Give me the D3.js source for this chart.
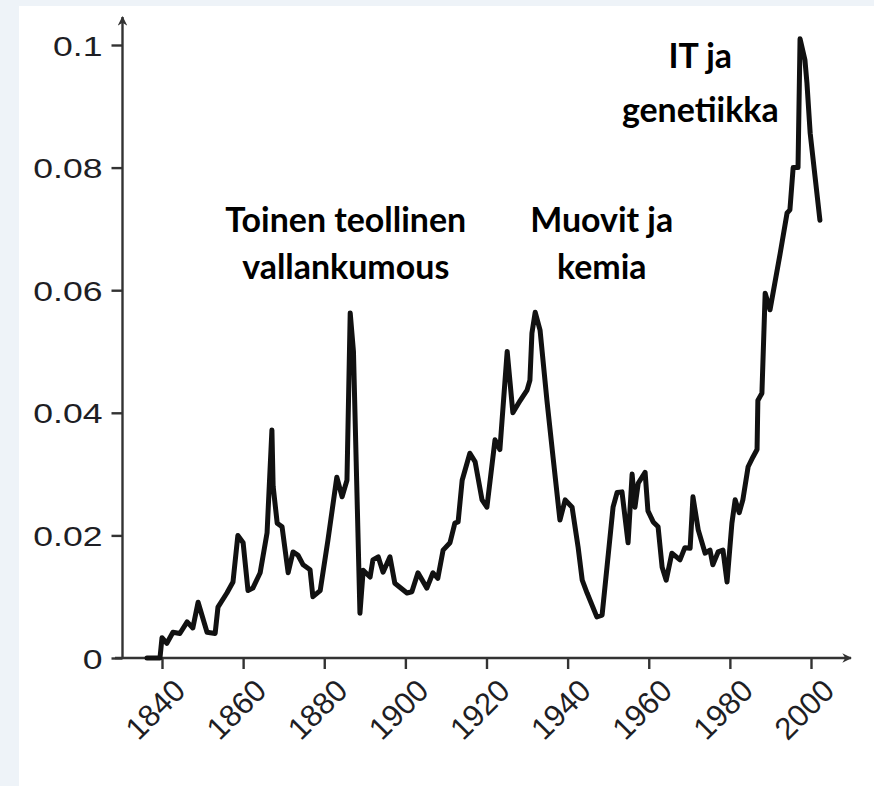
<!DOCTYPE html>
<html lang="fi">
<head>
<meta charset="utf-8">
<title>Innovaatioaallot</title>
<style>
  html, body { margin: 0; padding: 0; background: #eef3f8; }
  svg { display: block; }
  .tick text { fill: #1e1e24; font-family: "Liberation Sans", Arial, sans-serif; }
  .tick line { stroke: #333; stroke-width: 2.4px; }
  .note { font-family: Lato, "Open Sans", sans-serif; font-weight: 700; fill: #000; }
</style>
</head>
<body>
<div id="chart"></div>
<script src="https://cdn.jsdelivr.net/npm/d3@7"></script>
<script>
// values (year, share)
var years = [1836.3, 1839.5, 1840.0, 1841.2, 1842.7, 1844.4, 1846.2, 1847.6, 1848.9, 1851.1,
  1853.1, 1853.8, 1856.0, 1857.5, 1858.7, 1860.0, 1861.2, 1862.4, 1864.2, 1865.9,
  1867.1, 1867.4, 1868.4, 1869.6, 1871.1, 1872.3, 1873.5, 1874.8, 1876.5, 1877.2,
  1879.0, 1880.9, 1883.1, 1884.4, 1885.6, 1886.4, 1887.2, 1888.8, 1889.6, 1891.3,
  1892.0, 1893.3, 1894.5, 1896.2, 1897.4, 1900.4, 1901.6, 1903.1, 1905.3, 1906.8,
  1908.0, 1909.3, 1911.0, 1912.2, 1913.0, 1914.0, 1915.9, 1917.2, 1918.9, 1920.1,
  1922.1, 1923.3, 1925.1, 1926.5, 1928.3, 1930.0, 1930.7, 1931.2, 1932.0, 1933.2,
  1934.9, 1936.4, 1938.1, 1939.4, 1941.1, 1942.6, 1943.6, 1944.8, 1947.2, 1948.5,
  1949.7, 1951.2, 1952.2, 1953.4, 1954.9, 1955.9, 1956.6, 1957.4, 1959.1, 1959.8,
  1961.1, 1962.3, 1963.3, 1964.3, 1965.7, 1967.7, 1968.9, 1970.2, 1970.9, 1972.2,
  1973.9, 1975.1, 1975.8, 1977.1, 1978.3, 1979.3, 1980.5, 1981.3, 1982.3, 1983.2,
  1984.5, 1985.7, 1986.7, 1986.9, 1987.9, 1988.7, 1989.9, 1992.4, 1994.1, 1994.8,
  1995.6, 1996.8, 1997.3, 1998.5, 1999.0, 1999.8, 2001.0, 2002.2];
var shares = [0, 0, 0.0033, 0.0024, 0.0042, 0.0040, 0.0059, 0.0049, 0.0091, 0.0042,
  0.0040, 0.0083, 0.0106, 0.0124, 0.0200, 0.0188, 0.0110, 0.0114, 0.0139, 0.0204,
  0.0372, 0.0280, 0.0220, 0.0214, 0.0139, 0.0173, 0.0168, 0.0152, 0.0144, 0.0100,
  0.0110, 0.0192, 0.0295, 0.0263, 0.0290, 0.0563, 0.0500, 0.0073, 0.0143, 0.0132,
  0.0160, 0.0165, 0.0140, 0.0165, 0.0122, 0.0106, 0.0108, 0.0139, 0.0114, 0.0139,
  0.0130, 0.0176, 0.0188, 0.0220, 0.0222, 0.0290, 0.0334, 0.0320, 0.0258, 0.0246,
  0.0356, 0.0340, 0.0500, 0.0400, 0.0420, 0.0437, 0.0453, 0.0530, 0.0564, 0.0535,
  0.0420, 0.0328, 0.0225, 0.0258, 0.0246, 0.0180, 0.0127, 0.0106, 0.0067, 0.0070,
  0.0148, 0.0246, 0.0270, 0.0271, 0.0188, 0.0300, 0.0246, 0.0285, 0.0303, 0.0240,
  0.0222, 0.0214, 0.0148, 0.0127, 0.0171, 0.0160, 0.0180, 0.0179, 0.0263, 0.0209,
  0.0171, 0.0176, 0.0152, 0.0173, 0.0176, 0.0124, 0.0220, 0.0258, 0.0237, 0.0258,
  0.0312, 0.0328, 0.0340, 0.0420, 0.0432, 0.0595, 0.0568, 0.0660, 0.0726, 0.0731,
  0.0800, 0.0800, 0.1010, 0.0976, 0.0938, 0.0856, 0.0785, 0.0714];

var xTicks = [1840, 1860, 1880, 1900, 1920, 1940, 1960, 1980, 2000];
var yTicks = [0, 0.02, 0.04, 0.06, 0.08, 0.1];
var yTickLabels = ["0", "0.02", "0.04", "0.06", "0.08", "0.1"];

var notes = [
  { lines: ["Toinen teollinen", "vallankumous"], year: 1885.3, top: 0.0695, gap: 1.4 },
  { lines: ["Muovit ja", "kemia"], year: 1948.4, top: 0.0695, gap: 1.4 },
  { lines: ["IT ja", "genetiikka"], year: 1972.7, top: 0.0963, gap: 1.6 }
];

var width = 874, height = 786;

var svg = d3.select("#chart").append("svg")
  .attr("width", width)
  .attr("height", height);

svg.append("rect").attr("width", width).attr("height", height).attr("fill", "#eef3f8");
svg.append("rect").attr("x", 19).attr("y", 6)
  .attr("width", width - 19).attr("height", height - 6).attr("fill", "#fff");

var x = d3.scaleLinear().domain([1840, 2000]).range([162, 811]);
var y = d3.scaleLinear().domain([0, 0.1]).range([658, 45]);
var x0 = 122.5;

// arrow heads
svg.append("defs").append("marker")
  .attr("id", "arrow")
  .attr("viewBox", "0 0 10 10")
  .attr("refX", 9).attr("refY", 5)
  .attr("markerWidth", 4).attr("markerHeight", 4)
  .attr("orient", "auto")
  .append("path")
  .attr("d", "M0,0 L10,5 L0,10 L3,5 Z")
  .attr("fill", "#333");

// y axis
var yAxis = svg.append("g")
  .attr("transform", "translate(" + x0 + ",0)")
  .call(d3.axisLeft(y).tickValues(yTicks).tickSize(11)
    .tickFormat(function(d, i) { return yTickLabels[i]; }));
yAxis.select(".domain").remove();
yAxis.selectAll(".tick text")
  .attr("x", 0)
  .attr("dy", "0.36em")
  .style("font-size", "28px")
  .attr("transform", "translate(-20,0) scale(1.27,1)");

// x axis
var xAxis = svg.append("g")
  .attr("transform", "translate(0," + y(0) + ")")
  .call(d3.axisBottom(x).tickValues(xTicks).tickSize(11).tickFormat(d3.format("d")));
xAxis.select(".domain").remove();
xAxis.selectAll(".tick text")
  .attr("x", 0).attr("y", 0).attr("dy", "0.35em")
  .style("font-size", "31px")
  .style("text-anchor", "end")
  .attr("transform", "translate(17,27) rotate(-45)");

svg.append("line")
  .attr("x1", x0).attr("x2", x0)
  .attr("y1", y(0)).attr("y2", 17)
  .attr("stroke", "#333").attr("stroke-width", 2.4)
  .attr("marker-end", "url(#arrow)");
svg.append("line")
  .attr("x1", 115).attr("x2", 851)
  .attr("y1", y(0)).attr("y2", y(0))
  .attr("stroke", "#333").attr("stroke-width", 2.4)
  .attr("marker-end", "url(#arrow)");

// the series
var line = d3.line()
  .x(function(d, i) { return x(years[i]); })
  .y(function(d) { return y(d); });

svg.append("path")
  .datum(shares)
  .attr("d", line)
  .attr("fill", "none")
  .attr("stroke", "#111")
  .attr("stroke-width", 5)
  .attr("stroke-linejoin", "round")
  .attr("stroke-linecap", "round");

// annotations, sized so the first line matches the picture width
var probe = svg.append("text").attr("class", "note").style("font-size", "30px").text("Toinen teollinen");
var fontSize = 30 * 241 / probe.node().getComputedTextLength();
probe.remove();

notes.forEach(function(n) {
  var t = svg.append("text")
    .attr("class", "note")
    .style("font-size", fontSize + "px")
    .attr("text-anchor", "middle");
  n.lines.forEach(function(s, i) {
    t.append("tspan")
      .attr("x", x(n.year))
      .attr("y", y(n.top) + i * fontSize * n.gap)
      .text(s);
  });
});
</script>
</body>
</html>
